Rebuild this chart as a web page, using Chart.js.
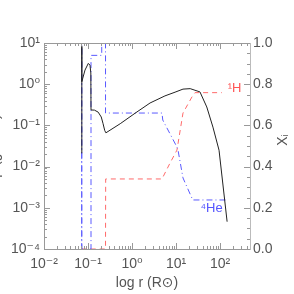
<!DOCTYPE html>
<html>
<head>
<meta charset="utf-8">
<script src="https://cdn.jsdelivr.net/npm/chart.js@4/dist/chart.umd.min.js"></script>
<style>
html,body{margin:0;padding:0;background:#fff;overflow:hidden;}
canvas{display:block;}
</style>
</head>
<body>
<canvas id="c" width="294" height="294"></canvas>
<script>
// ---- data ----
// density (left axis), black solid
const rhoR = [0.072, 0.0722, 0.0725, 0.0855, 0.1016, 0.111, 0.116, 0.117, 0.14, 0.17, 0.2, 0.22, 0.24, 0.255, 0.54, 1.17, 2.57, 5.6, 9.5, 14.4, 21, 35, 50, 69, 95, 145];
const rhoV = [0.021, 8.3, 1.15, 2.2, 3.2, 2.9, 1.87, 0.237, 0.235, 0.21, 0.16, 0.11, 0.075, 0.066, 0.11, 0.197, 0.35, 0.52, 0.64, 0.76, 0.78, 0.65, 0.28, 0.091, 0.025, 0.00046];
// 4He mass fraction (right axis), blue dash-dot
const heR = [0.072, 0.072, 0.0722, 0.117, 0.117, 0.205, 0.205, 0.25, 0.25, 4.8, 5.0, 10.5, 11.1, 14.4, 24, 142];
const heX = [0, 0.99, 0, 0, 0.94, 0.94, 1.0, 1.0, 0.66, 0.66, 0.626, 0.495, 0.48, 0.345, 0.238, 0.238];
// 1H mass fraction (right axis), red dashed
const hR = [0.072, 0.25, 0.252, 4.8, 7.3, 10.5, 14.4, 23, 27, 110];
const hX = [0, 0, 0.34, 0.34, 0.417, 0.48, 0.66, 0.738, 0.759, 0.759];

const xTickValues = [0.01, 0.1, 1, 10, 100];
const xTickLabels = ['10\u207B\u00B2', '10\u207B\u00B9', '10\u2070', '10\u00B9', '10\u00B2'];
const yTickValues = [0.0001, 0.001, 0.01, 0.1, 1, 10];
const yTickLabels = ['10\u207B\u2074', '10\u207B\u00B3', '10\u207B\u00B2', '10\u207B\u00B9', '10\u2070', '10\u00B9'];
const y2TickValues = [0, 0.2, 0.4, 0.6, 0.8, 1.0];
const y2TickLabels = ['0.0', '0.2', '0.4', '0.6', '0.8', '1.0'];

const seriesLabels = ['\u00B9H', '\u2074He'];
const labelAt = [[150, 0.78], [36, 0.195]];

const xTitle = 'log r (R\u2299)';
const yTitle = '\u03C1 (g cm\u207B\u00B3)';
const y2Title = 'X\u1D62';

const FONT = 'Liberation Sans, Arial, DejaVu Sans, sans-serif';
const TXT = '#555';
const AX = '#999';

const pts = (xs, ys) => xs.map((x, i) => ({x: x, y: ys[i]}));

const tickPlugin = {
  id: 'idlTicks',
  afterDraw(chart) {
    const {ctx, chartArea: a, scales} = chart;
    ctx.save();
    ctx.strokeStyle = AX;
    ctx.lineWidth = 1;
    ctx.beginPath();
    ctx.moveTo(a.left, a.top + 0.5); ctx.lineTo(a.right, a.top + 0.5);
    for (let d = -2; d <= 2; d++) {
      for (let m = 1; m <= 9; m++) {
        const v = m * Math.pow(10, d);
        if (v < scales.x.min || v > scales.x.max) continue;
        const p = Math.round(scales.x.getPixelForValue(v)) + 0.5;
        const len = m === 1 ? 6 : 3;
        ctx.moveTo(p, a.bottom); ctx.lineTo(p, a.bottom - len);
        ctx.moveTo(p, a.top); ctx.lineTo(p, a.top + len);
      }
    }
    for (let d = -4; d <= 1; d++) {
      for (let m = 1; m <= 9; m++) {
        const v = m * Math.pow(10, d);
        if (v < scales.y.min * 0.999 || v > scales.y.max * 1.001) continue;
        const p = Math.round(scales.y.getPixelForValue(v)) + 0.5;
        const len = m === 1 ? 6 : 3;
        ctx.moveTo(a.left, p); ctx.lineTo(a.left + len, p);
      }
    }
    for (let i = 0; i <= 20; i++) {
      const v = i * 0.05;
      const p = Math.round(scales.y2.getPixelForValue(v)) + 0.5;
      const len = i % 4 === 0 ? 6 : 3;
      ctx.moveTo(a.right, p); ctx.lineTo(a.right - len, p);
    }
    ctx.stroke();
    ctx.font = '13px ' + FONT;
    ctx.textBaseline = 'middle';
    ctx.textAlign = 'left';
    ctx.fillStyle = '#ff5555';
    ctx.fillText(seriesLabels[0], scales.x.getPixelForValue(labelAt[0][0]), scales.y2.getPixelForValue(labelAt[0][1]));
    ctx.fillStyle = '#5555ff';
    ctx.fillText(seriesLabels[1], scales.x.getPixelForValue(labelAt[1][0]), scales.y2.getPixelForValue(labelAt[1][1]));
    ctx.fillStyle = TXT;
    ctx.font = '14px ' + FONT;
    ctx.textAlign = 'center';
    ctx.textBaseline = 'alphabetic';
    ctx.save();
    ctx.translate(-1.5, (a.top + a.bottom) / 2);
    ctx.rotate(-Math.PI / 2);
    ctx.fillText(yTitle, 0, 0);
    ctx.restore();
    ctx.save();
    ctx.translate(287, (a.top + a.bottom) / 2 - 6);
    ctx.rotate(-Math.PI / 2);
    ctx.fillText(y2Title, 0, 0);
    ctx.restore();
    ctx.restore();
  }
};

new Chart(document.getElementById('c'), {
  type: 'scatter',
  data: {
    datasets: [
      {data: pts(rhoR, rhoV), yAxisID: 'y', borderColor: '#222', borderWidth: 1, showLine: true, pointRadius: 0, tension: 0},
      {data: pts(heR, heX), yAxisID: 'y2', borderColor: '#5a5aff', borderWidth: 1, borderDash: [6, 3, 1, 3], showLine: true, pointRadius: 0, tension: 0},
      {data: pts(hR, hX), yAxisID: 'y2', borderColor: '#ff6a6a', borderWidth: 1, borderDash: [5, 4], showLine: true, pointRadius: 0, tension: 0}
    ]
  },
  options: {
    responsive: false,
    animation: false,
    devicePixelRatio: 1,
    layout: {padding: {top: 43, left: 0, right: 0, bottom: 0}},
    plugins: {legend: {display: false}, tooltip: {enabled: false}},
    scales: {
      x: {
        type: 'logarithmic', position: 'bottom', min: 0.01, max: 480,
        afterBuildTicks: s => { s.ticks = xTickValues.map(v => ({value: v, major: true})); },
        afterFit: s => { s.height = 45; },
        grid: {display: false, drawTicks: false},
        border: {display: true, color: AX, width: 1},
        ticks: {callback: (v, i) => xTickLabels[i], color: TXT, font: {family: FONT, size: 14}, padding: 7, maxRotation: 0, autoSkip: false},
        title: {display: true, text: xTitle, color: TXT, font: {family: FONT, size: 14}, padding: {top: 2, bottom: 2}}
      },
      y: {
        type: 'logarithmic', position: 'left', min: 0.0001, max: 10,
        afterBuildTicks: s => { s.ticks = yTickValues.map(v => ({value: v, major: true})); },
        afterFit: s => { s.width = 44; },
        grid: {display: false, drawTicks: false},
        border: {display: true, color: AX, width: 1},
        ticks: {callback: (v, i) => yTickLabels[i], color: TXT, font: {family: FONT, size: 14}, padding: 4, autoSkip: false}
      },
      y2: {
        type: 'linear', position: 'right', min: 0, max: 1,
        afterBuildTicks: s => { s.ticks = y2TickValues.map(v => ({value: v})); },
        afterFit: s => { s.width = 44; },
        grid: {display: false, drawTicks: false},
        border: {display: true, color: '#bbb', width: 1},
        ticks: {callback: (v, i) => y2TickLabels[i], color: TXT, font: {family: FONT, size: 14}, padding: 3, autoSkip: false}
      }
    }
  },
  plugins: [tickPlugin]
});
</script>
</body>
</html>
